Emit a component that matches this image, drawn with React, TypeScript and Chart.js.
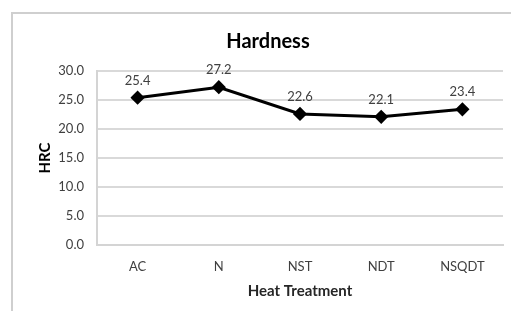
import React, { useEffect, useRef } from "react";
import { Chart, registerables } from "chart.js";

Chart.register(...registerables);

const categories = ["AC", "N", "NST", "NDT", "NSQDT"];
const hardness = [25.4, 27.2, 22.6, 22.1, 23.4];
const yTicks = [0, 5, 10, 15, 20, 25, 30];

const FONT = "Lato, 'Open Sans', sans-serif";

const frame = {
  id: "frame",
  beforeDraw(chart: any) {
    const ctx = chart.ctx;
    ctx.save();
    ctx.fillStyle = "#ffffff";
    ctx.fillRect(0, 0, chart.width, chart.height);
    ctx.fillStyle = "#cfcfcf";
    ctx.fillRect(11, 12, 2, chart.height - 12);
    ctx.fillRect(11, 12, chart.width - 11, 2);
    ctx.restore();
  },
};

const valueLabels = {
  id: "valueLabels",
  afterDatasetsDraw(chart: any) {
    const ctx = chart.ctx;
    const meta = chart.getDatasetMeta(0);
    ctx.save();
    ctx.font = `13px ${FONT}`;
    ctx.fillStyle = "#404040";
    ctx.textAlign = "center";
    ctx.textBaseline = "middle";
    meta.data.forEach((pt: any, i: number) => {
      ctx.fillText(hardness[i].toFixed(1), pt.x, pt.y - 17);
    });
    ctx.restore();
  },
};

export default function App() {
  const ref = useRef<HTMLCanvasElement | null>(null);
  useEffect(() => {
    if (!ref.current) return;
    const chart = new Chart(ref.current, {
      type: "line",
      data: {
        labels: categories,
        datasets: [
          {
            data: hardness,
            borderColor: "#000000",
            backgroundColor: "#000000",
            borderWidth: 3,
            pointStyle: "rectRot",
            pointRadius: 5,
            pointBackgroundColor: "#000000",
            pointBorderColor: "#000000",
            tension: 0,
            clip: false as any,
          },
        ],
      },
      options: {
        animation: false,
        responsive: false,
        maintainAspectRatio: false,
        layout: { padding: { left: 30, right: 5, top: 0, bottom: 0 } },
        plugins: {
          legend: { display: false },
          tooltip: { enabled: false },
          title: {
            display: true,
            text: "Hardness",
            color: "#000000",
            font: { family: FONT, size: 20, weight: "bold" },
            padding: { top: 30, bottom: 17 },
          },
        },
        scales: {
          x: {
            offset: true,
            grid: { display: false, drawTicks: false },
            border: { display: true, color: "#d4d4d4", width: 2 },
            ticks: {
              color: "#404040",
              font: { family: FONT, size: 13 },
              padding: 14,
              maxRotation: 0,
            },
            title: {
              display: true,
              text: "Heat Treatment",
              color: "#262626",
              font: { family: FONT, size: 15, weight: "bold" },
              padding: { top: 0, bottom: 11 },
            },
            afterFit(scale: any) {
              scale.height = 66;
            },
          },
          y: {
            min: 0,
            max: 30,
            afterBuildTicks(scale: any) {
              scale.ticks = yTicks.map((v) => ({ value: v }));
            },
            grid: { color: "#d9d9d9", lineWidth: 2, drawTicks: false },
            border: { display: true, color: "#d4d4d4", width: 2 },
            ticks: {
              color: "#404040",
              font: { family: FONT, size: 13 },
              padding: 13,
              callback: (v: any) => Number(v).toFixed(1),
            },
            title: {
              display: true,
              text: "HRC",
              color: "#000000",
              font: { family: FONT, size: 15, weight: "bold" },
              padding: { top: 6, bottom: 0 },
            },
            afterFit(scale: any) {
              scale.width = 67;
            },
          },
        },
      },
      plugins: [frame, valueLabels],
    });
    return () => chart.destroy();
  }, []);
  return (
    <div style={{ position: "absolute", left: 0, top: 0, width: 511, height: 311 }}>
      <canvas ref={ref} width={511} height={311} style={{ display: "block" }} />
    </div>
  );
}
